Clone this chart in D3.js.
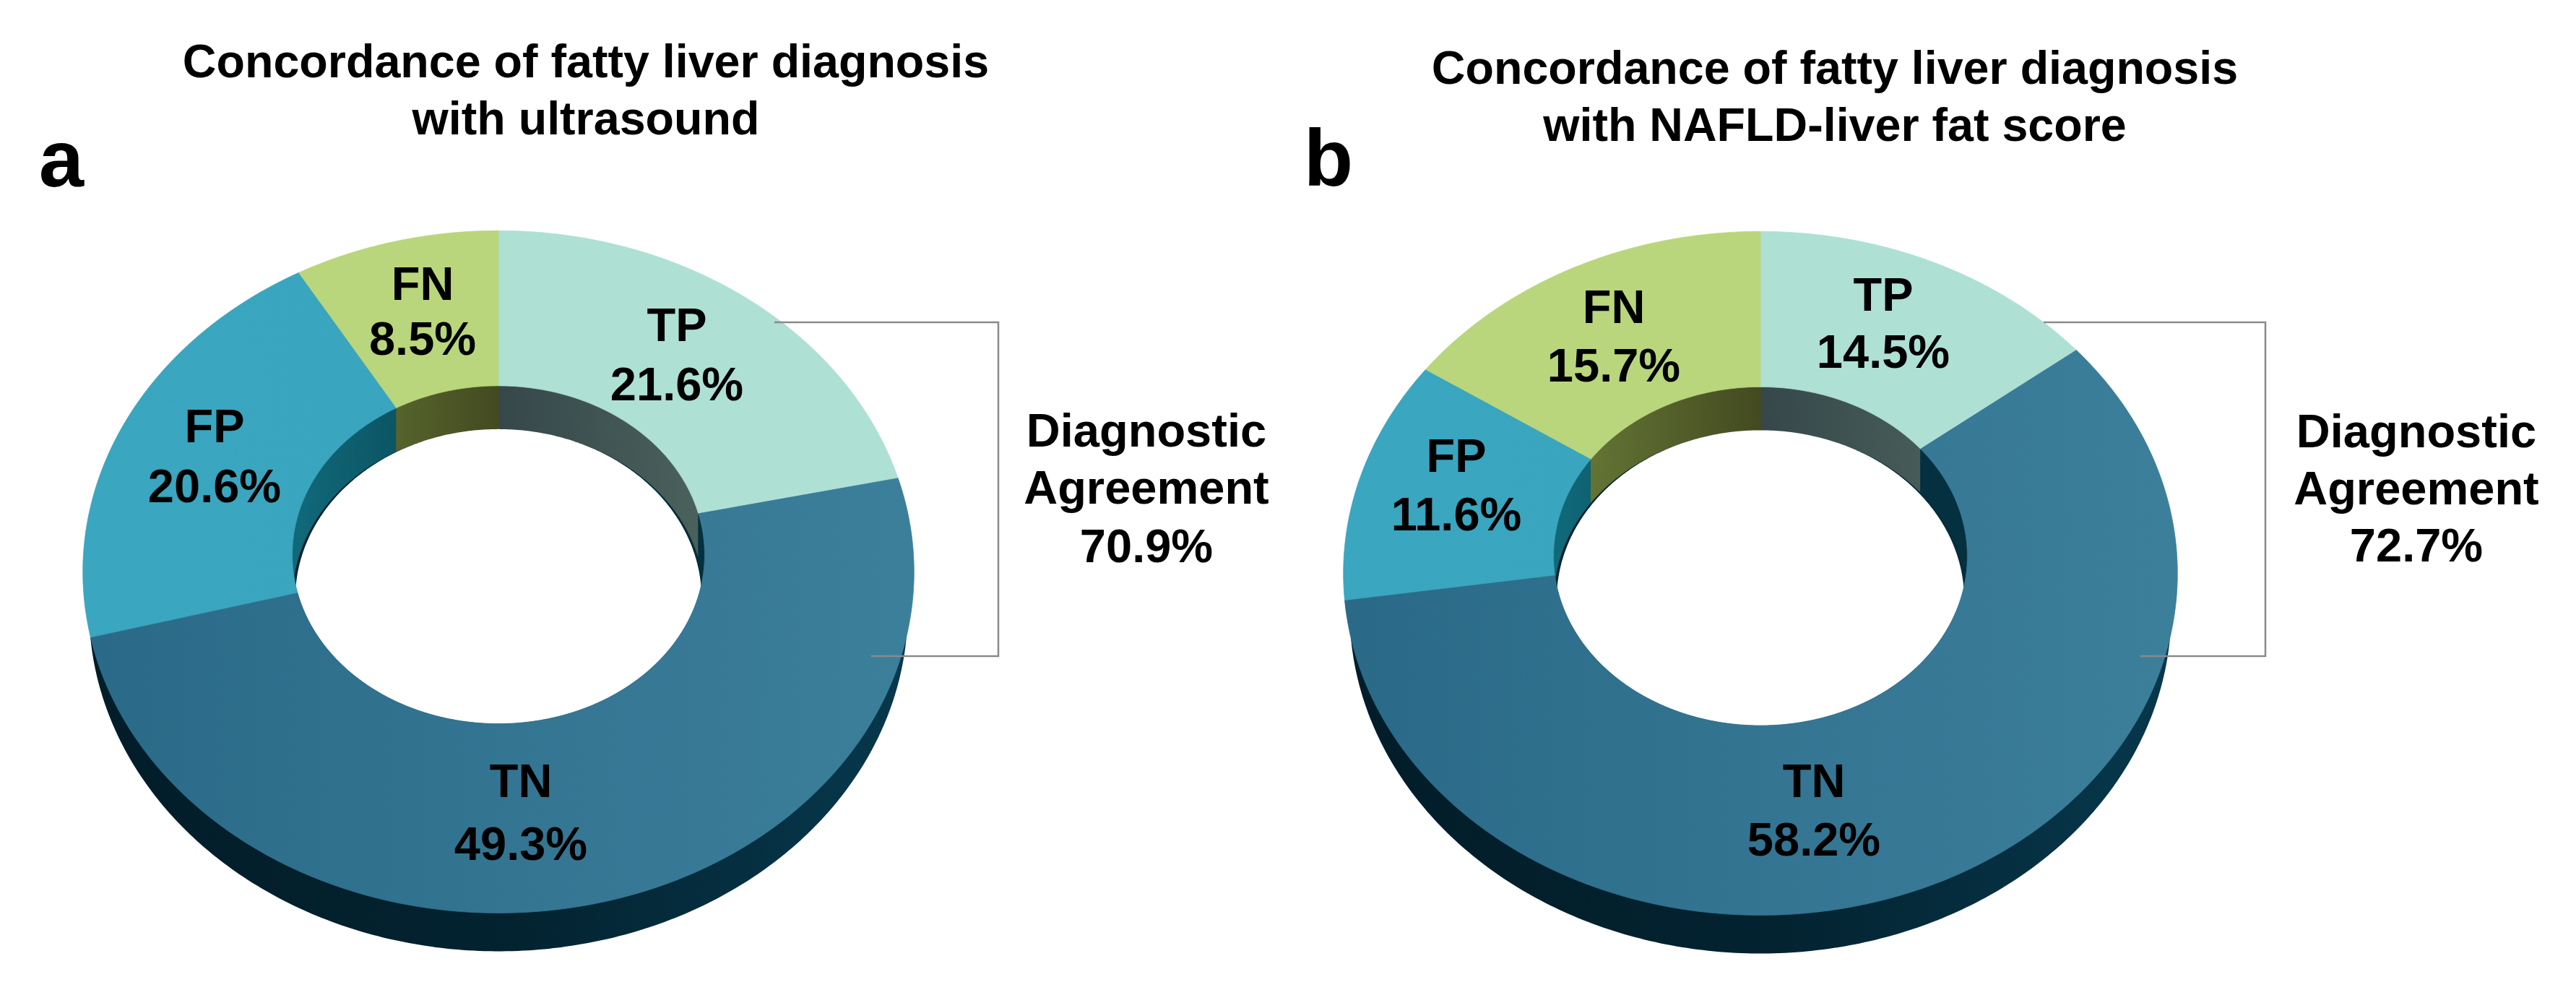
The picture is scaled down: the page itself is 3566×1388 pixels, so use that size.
<!DOCTYPE html>
<html><head><meta charset="utf-8">
<script src="https://cdn.jsdelivr.net/npm/d3@7/dist/d3.min.js"></script>
<style>html,body{margin:0;padding:0;background:#fff}svg{display:block}text{font-family:"Liberation Sans",Arial,sans-serif;font-weight:700;fill:#000}</style>
</head><body><svg id="c" width="3566" height="1388"></svg>
<script>
// ---- data ----
const categories = ["TP","TN","FP","FN"];
const valuesA = [21.6,49.3,20.6,8.5];
const valuesB = [14.5,58.2,11.6,15.7];
const agreementA = "70.9%";
const agreementB = "72.7%";
const titleA = ["Concordance of fatty liver diagnosis","with ultrasound"];
const titleB = ["Concordance of fatty liver diagnosis","with NAFLD-liver fat score"];

// ---- style ----
const faceFill = {TP:["#aee0d4","#aee0d4"],TN:["#2a6a88","#3c7f9b"],FP:["#3aa6c0","#38a3bd"],FN:["#b9d67c","#b9d67c"]};
const wallFill = {TP:["#36474a","#36474a","#4b625c"],TN:["#05303f","#05303f","#05303f"],FP:["#106a7a","#084050","#084050"],FN:["#6a7d38","#434a20","#434a20"]};

// ---- layout ----
const tilt = 0.0664, hole = 0.497, faceDepth = 53, holeDepth = 60, lowerNarrow = 0.985;
const panels = [
 {id:"a",values:valuesA,agreement:agreementA,title:titleA,cx:690,k:574,y0:760,s:470,
  letter:[85,258],titleX:811,titleY:[107,186],
  labels:{TP:[937,472],FN:[585,415],FP:[297,612],TN:[721,1103]},
  labelGap:{TP:82,FN:76,FP:83,TN:87},
  bracket:{x0:1072,x1:1382,x2:1206,y0:446,y1:908},diagX:1587,diagY:[618,697,778]},
 {id:"b",values:valuesB,agreement:agreementB,title:titleB,cx:2437,k:576,y0:762,s:471,
  letter:[1839,257],titleX:2540,titleY:[116,195],
  labels:{TP:[2607,430],FN:[2234,447],FP:[2016,653],TN:[2511,1103]},
  labelGap:{TP:79,FN:81,FP:81,TN:81},
  bracket:{x0:2829,x1:3136,x2:2963,y0:446,y1:908},diagX:3345,diagY:[619,698,777]}
];
const fs = 65, titleFs = 64.6;

const svg = d3.select("#c");
const defs = svg.append("defs");
const pie = d3.pie().sort(null);
const pathOf = d3.line();

function grad(id,x0,x1,stops){
  const g = defs.append("linearGradient").attr("id",id).attr("gradientUnits","userSpaceOnUse")
    .attr("x1",x0).attr("x2",x1).attr("y1",0).attr("y2",0);
  stops.forEach((c,i)=>g.append("stop").attr("offset",i/(stops.length-1)).attr("stop-color",c));
  return `url(#${id})`;
}

panels.forEach(P=>{
  const xS = d3.scaleLinear().domain([-1,1]).range([P.cx-P.k,P.cx+P.k]);
  const yS = d3.scaleLinear().domain([-1,1]).range([P.y0-P.s,P.y0+P.s]);
  // concentric circles seen in perspective
  const proj = (r,t)=>{
    const u=r*Math.sin(t), v=-r*Math.cos(t), w=1-tilt*v;
    return [xS(u/w),yS(v/w)];
  };
  const arcPts = (r,a0,a1)=>{
    const n=Math.max(8,Math.ceil(Math.abs(a1-a0)*80));
    return d3.range(n+1).map(i=>proj(r,a0+(a1-a0)*i/n));
  };
  const full = 2*Math.PI;
  const drop = (pts,d)=>pts.map(p=>[p[0],p[1]+d]);
  const narrow = pts=>pts.map(p=>[P.cx+(p[0]-P.cx)*lowerNarrow,p[1]]);
  const arcs = pie(P.values);
  const g = svg.append("g");

  // outer extrusion: the lower rim, slightly narrower than the face
  const outer = arcPts(1,0,full);
  const gWall = grad("outerWall"+P.id,P.cx-P.k,P.cx+P.k,["#021d29","#03222f","#07384d"]);
  g.append("path").attr("d",pathOf(narrow(drop(outer,faceDepth)))+"Z").attr("fill",gWall);

  // hole: walls clipped to the inner ellipse, then white floor opening
  const inner = arcPts(hole,0,full);
  defs.append("clipPath").attr("id","holeClip"+P.id).append("path").attr("d",pathOf(inner)+"Z");
  const hg = g.append("g").attr("clip-path",`url(#holeClip${P.id})`);
  const ix0 = P.cx-P.k*hole-2, ix1 = P.cx+P.k*hole+2;
  hg.selectAll("path.wall").data(arcs).join("path").attr("class","wall")
    .attr("fill",d=>grad("wall"+P.id+categories[d.index],ix0,ix1,wallFill[categories[d.index]]))
    .attr("stroke",d=>`url(#wall${P.id}${categories[d.index]})`).attr("stroke-width",1)
    .attr("d",d=>{
      const top=arcPts(hole,d.startAngle,d.endAngle);
      return pathOf(top.concat(drop(top,holeDepth).reverse()))+"Z";
    });
  hg.append("path").attr("d",pathOf(narrow(drop(inner,holeDepth)))+"Z").attr("fill","#fff");

  // top face
  g.selectAll("path.face").data(arcs).join("path").attr("class","face")
    .attr("fill",d=>grad("face"+P.id+categories[d.index],P.cx-P.k,P.cx+P.k,faceFill[categories[d.index]]))
    .attr("stroke",d=>`url(#face${P.id}${categories[d.index]})`).attr("stroke-width",0.8)
    .attr("d",d=>pathOf(arcPts(1,d.startAngle,d.endAngle).concat(arcPts(hole,d.endAngle,d.startAngle)))+"Z");

  // bracket
  const b=P.bracket;
  g.append("path").attr("fill","none").attr("stroke","#8a8a8a").attr("stroke-width",2.5)
    .attr("d",pathOf([[b.x0,b.y0],[b.x1,b.y0],[b.x1,b.y1],[b.x2,b.y1]]));

  // slice labels
  arcs.forEach(d=>{
    const c=categories[d.index], [x,y]=P.labels[c];
    const t=g.append("text").attr("text-anchor","middle").attr("font-size",fs);
    t.append("tspan").attr("x",x).attr("y",y).text(c);
    t.append("tspan").attr("x",x).attr("y",y+P.labelGap[c]).text(d.data.toFixed(1)+"%");
  });

  // agreement
  const t=g.append("text").attr("text-anchor","middle").attr("font-size",fs);
  ["Diagnostic","Agreement",P.agreement].forEach((s,i)=>
    t.append("tspan").attr("x",P.diagX).attr("y",P.diagY[i]).text(s));

  // title and panel letter
  P.title.forEach((s,i)=>g.append("text").attr("text-anchor","middle").attr("font-size",titleFs)
    .attr("x",P.titleX).attr("y",P.titleY[i]).text(s));
  g.append("text").attr("text-anchor","middle").attr("font-size",112)
    .attr("x",P.letter[0]).attr("y",P.letter[1]).text(P.id);
});
</script></body></html>
